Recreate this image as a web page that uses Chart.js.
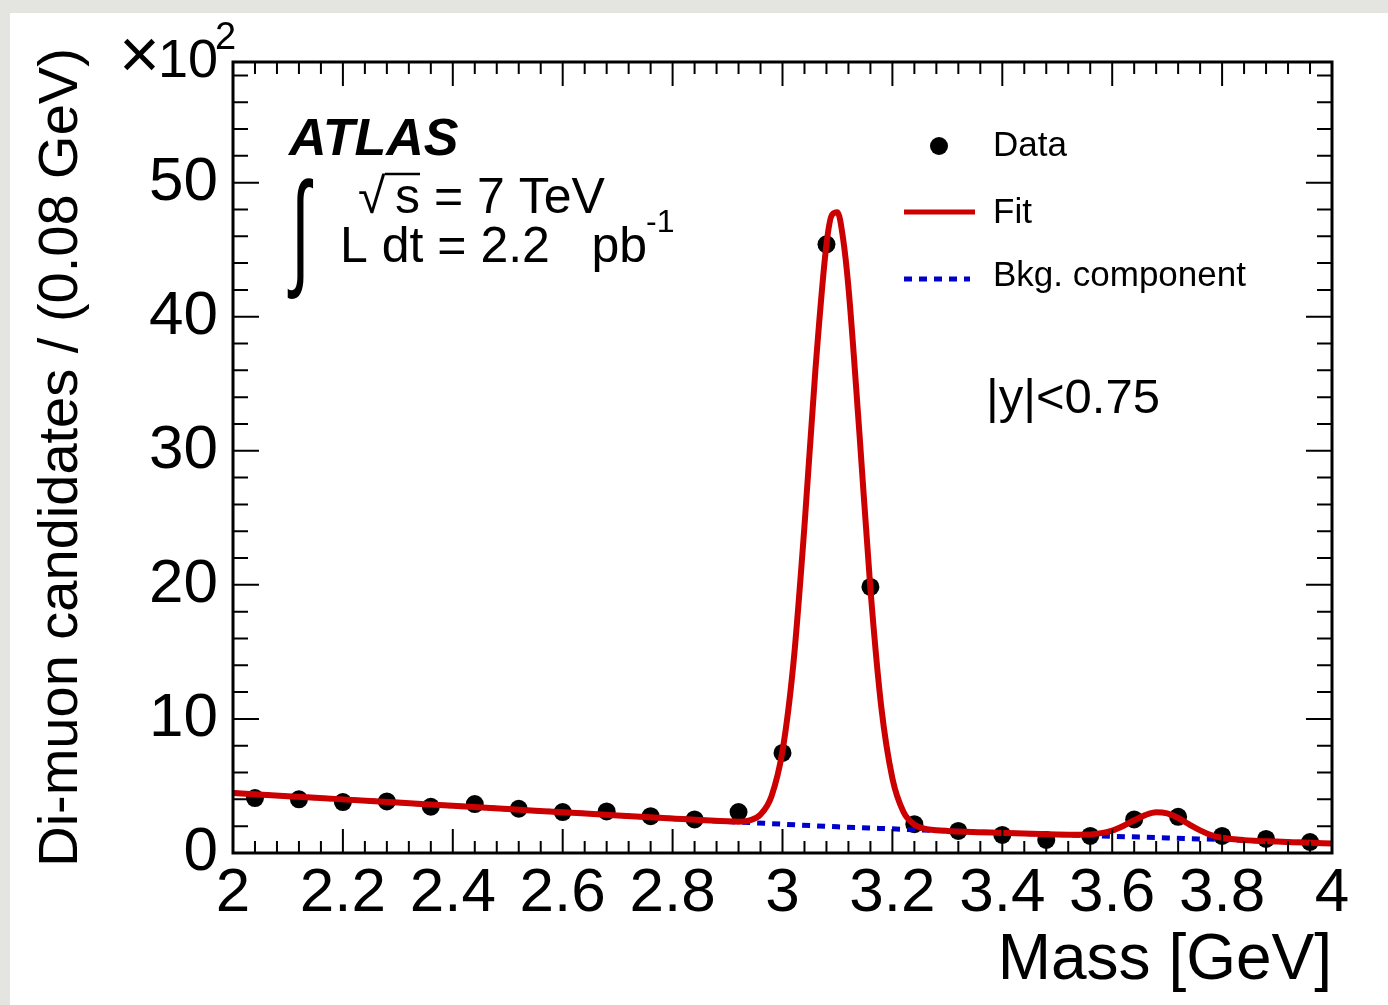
<!DOCTYPE html>
<html>
<head>
<meta charset="utf-8">
<title>Di-muon mass</title>
<script src="https://cdn.jsdelivr.net/npm/chart.js@4.4.0/dist/chart.umd.min.js"></script>
<style>
  html, body { margin: 0; padding: 0; }
  body { width: 1388px; height: 1005px; background: #e4e4e0; position: relative; overflow: hidden; }
  #sheet { position: absolute; left: 10px; top: 13px; right: 0; bottom: 0; background: #fff; }
  #wrap { position: absolute; left: 0; top: 0; width: 1388px; height: 1005px; }
</style>
</head>
<body>
<div id="sheet"></div>
<div id="wrap"><canvas id="mass"></canvas></div>
<script>
// axis ticks
const xTicks = [2, 2.2, 2.4, 2.6, 2.8, 3, 3.2, 3.4, 3.6, 3.8, 4];
const yTicks = [0, 10, 20, 30, 40, 50];

// data, bins of 0.08 GeV (units of 10^2 candidates)
const binCentres = [2.04, 2.12, 2.20, 2.28, 2.36, 2.44, 2.52, 2.60, 2.68, 2.76, 2.84, 2.92,
  3.00, 3.08, 3.16, 3.24, 3.32, 3.40, 3.48, 3.56, 3.64, 3.72, 3.80, 3.88, 3.96];
const counts = [4.1, 4.0, 3.8, 3.85, 3.45, 3.65, 3.3, 3.05, 3.1, 2.75, 2.5, 3.05,
  7.46, 45.4, 19.85, 2.15, 1.65, 1.35, 0.97, 1.27, 2.5, 2.7, 1.27, 1.05, 0.82];

// total fit
const fitMass = [2.0, 2.1, 2.2, 2.3, 2.4, 2.5, 2.6, 2.7, 2.8, 2.9, 2.92, 2.94, 2.96, 2.98,
  3.0, 3.02, 3.04, 3.06, 3.08, 3.09, 3.1, 3.11, 3.12, 3.14, 3.16, 3.18, 3.2, 3.22, 3.24,
  3.26, 3.28, 3.3, 3.4, 3.5, 3.54, 3.58, 3.6, 3.62, 3.64, 3.66, 3.68, 3.7, 3.72, 3.74,
  3.76, 3.78, 3.8, 3.84, 3.9, 3.95, 4.0];
const fitValues = [4.48, 4.24, 4.0, 3.76, 3.52, 3.28, 3.04, 2.8, 2.57, 2.36, 2.34, 2.44, 2.87, 4.24,
  7.62, 14.2, 24.4, 36.1, 45.4, 47.6, 47.8, 45.9, 42.2, 31.3, 19.7, 10.8, 5.57, 3.08, 2.12,
  1.80, 1.70, 1.65, 1.5, 1.38, 1.36, 1.48, 1.68, 2.02, 2.44, 2.83, 3.04, 2.95, 2.61, 2.13,
  1.69, 1.34, 1.14, 0.96, 0.85, 0.78, 0.7];

// background part of the fit
const bkgMass = [2.0, 2.1, 2.2, 2.3, 2.4, 2.5, 2.6, 2.7, 2.8, 2.9, 3.0, 3.1, 3.2, 3.3, 3.4,
  3.5, 3.6, 3.7, 3.8, 3.9, 4.0];
const bkgValues = [4.48, 4.24, 4.0, 3.76, 3.52, 3.28, 3.04, 2.8, 2.57, 2.35, 2.15, 1.95, 1.8,
  1.65, 1.5, 1.38, 1.25, 1.12, 1.0, 0.85, 0.7];

const FONT = "'Liberation Sans', Arial, Helvetica, sans-serif";
const RED = "#cc0000";
const BLUE = "#0000cc";

const toPoints = (xs, ys) => xs.map((v, i) => ({ x: v, y: ys[i] }));

function text(ctx, str, x, y, size, opts = {}) {
  ctx.font = (opts.style || "") + " " + size + "px " + FONT;
  ctx.textAlign = opts.align || "left";
  ctx.textBaseline = opts.baseline || "alphabetic";
  ctx.fillStyle = "#000";
  ctx.fillText(str, x, y);
}

// ROOT-like frame: box, inward ticks on all four sides, labels inside the pad
const frame = {
  id: "frame",
  afterDraw(chart) {
    const { ctx, chartArea: a, scales: { x, y } } = chart;
    ctx.save();
    ctx.strokeStyle = "#000";
    ctx.lineWidth = 2;
    ctx.beginPath();
    for (let i = 0; i <= 50; i++) {
      const px = x.getPixelForValue(2 + i * 0.04);
      const len = i % 5 === 0 ? 24 : 12;
      ctx.moveTo(px, a.bottom); ctx.lineTo(px, a.bottom - len);
      ctx.moveTo(px, a.top); ctx.lineTo(px, a.top + len);
    }
    for (let i = 0; i * 2 <= y.max; i++) {
      const py = y.getPixelForValue(i * 2);
      const len = i % 5 === 0 ? 26 : 15;
      ctx.moveTo(a.left, py); ctx.lineTo(a.left + len, py);
      ctx.moveTo(a.right, py); ctx.lineTo(a.right - len, py);
    }
    ctx.stroke();
    ctx.lineWidth = 3;
    ctx.strokeRect(a.left, a.top, a.right - a.left, a.bottom - a.top);

    // exponent of the y axis
    text(ctx, "\u00d7", 119, 78, 70);
    text(ctx, "10", 158, 77, 54);
    text(ctx, "2", 215, 49, 38);

    // experiment label
    text(ctx, "ATLAS", 289, 155, 52, { style: "italic bold" });
    // narrow, tall integral sign
    ctx.save();
    ctx.translate(291, 272);
    ctx.scale(0.58, 1.08);
    text(ctx, "\u222b", 0, 0, 118);
    ctx.restore();
    text(ctx, "\u221a", 358, 213, 50);
    ctx.lineWidth = 2.5;
    ctx.beginPath();
    ctx.moveTo(385, 174); ctx.lineTo(420, 174);
    ctx.stroke();
    text(ctx, "s = 7 TeV", 395, 213, 50);
    text(ctx, "L dt = 2.2   pb", 340, 262, 50);
    text(ctx, "-1", 646, 232, 32);
    text(ctx, "|y|<0.75", 986, 413, 49);

    // legend
    const lx = 904, tx = 993;
    ctx.fillStyle = "#000";
    ctx.beginPath();
    ctx.arc(939, 146, 9, 0, Math.PI * 2);
    ctx.fill();
    text(ctx, "Data", tx, 146, 35, { baseline: "middle" });
    ctx.lineWidth = 5;
    ctx.strokeStyle = RED;
    ctx.beginPath();
    ctx.moveTo(lx, 212); ctx.lineTo(975, 212);
    ctx.stroke();
    text(ctx, "Fit", tx, 213, 35, { baseline: "middle" });
    ctx.strokeStyle = BLUE;
    ctx.setLineDash([8, 7]);
    ctx.beginPath();
    ctx.moveTo(lx, 279); ctx.lineTo(970, 279);
    ctx.stroke();
    ctx.setLineDash([]);
    text(ctx, "Bkg. component", tx, 276, 35, { baseline: "middle" });
    ctx.restore();
  }
};

new Chart(document.getElementById("mass"), {
  type: "scatter",
  plugins: [frame],
  data: {
    datasets: [
      {
        label: "Fit",
        data: toPoints(fitMass, fitValues),
        showLine: true,
        borderColor: RED,
        borderWidth: 6,
        pointRadius: 0,
        cubicInterpolationMode: "monotone",
        order: 0,
      },
      {
        label: "Bkg. component",
        data: toPoints(bkgMass, bkgValues),
        showLine: true,
        borderColor: BLUE,
        borderWidth: 5,
        borderDash: [8, 7],
        pointRadius: 0,
        cubicInterpolationMode: "monotone",
        order: 1,
      },
      {
        label: "Data",
        data: toPoints(binCentres, counts),
        backgroundColor: "#000",
        borderWidth: 0,
        pointRadius: 9,
        order: 2,
      },
    ],
  },
  options: {
    responsive: true,
    maintainAspectRatio: false,
    animation: false,
    layout: { padding: { left: 0, top: 62, right: 56, bottom: 0 } },
    plugins: { legend: { display: false }, tooltip: { enabled: false } },
    scales: {
      x: {
        type: "linear",
        min: 2,
        max: 4,
        grid: { display: false },
        border: { display: false },
        afterFit: (s) => { s.height = 152; },
        afterBuildTicks: (s) => { s.ticks = xTicks.map((v) => ({ value: v })); },
        ticks: {
          color: "#000",
          padding: -4,
          maxRotation: 0,
          autoSkip: false,
          font: { family: FONT, size: 62 },
          callback: (v) => String(Math.round(v * 10) / 10),
        },
        title: {
          display: true,
          text: "Mass [GeV]",
          align: "end",
          color: "#000",
          font: { family: FONT, size: 64 },
          padding: { top: 0, bottom: 5 },
        },
      },
      y: {
        min: 0,
        max: 59,
        grid: { display: false },
        border: { display: false },
        afterFit: (s) => { s.width = 233; },
        afterBuildTicks: (s) => { s.ticks = yTicks.map((v) => ({ value: v })); },
        ticks: {
          color: "#000",
          padding: 7,
          font: { family: FONT, size: 62 },
        },
        title: {
          display: true,
          text: "Di-muon candidates / (0.08 GeV)",
          color: "#000",
          font: { family: FONT, size: 56 },
          padding: { top: 28, bottom: 0 },
        },
      },
    },
  },
});
</script>
</body>
</html>
